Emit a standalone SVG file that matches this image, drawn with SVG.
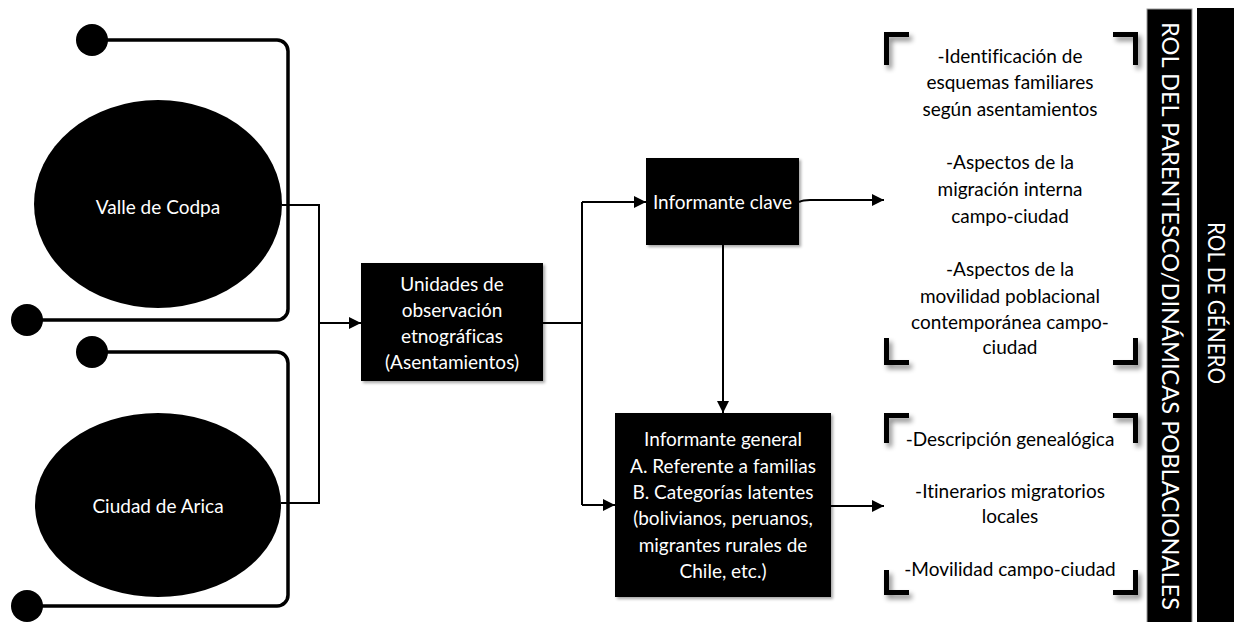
<svg xmlns="http://www.w3.org/2000/svg" width="1234" height="622" viewBox="0 0 1234 622">
  <defs>
    <style>
      .lbl { font-family: Lato, "Liberation Sans", sans-serif; font-size: 19px; text-anchor: middle; font-variant-ligatures: none; }
      .wt { fill: #ffffff; }
      .bk { fill: #000000; }
      .node { fill: #000000; }
      .wire { fill: none; stroke: #000000; stroke-width: 3.5; }
      .dot { fill: #000000; }
      .conn { fill: none; stroke: #000000; stroke-width: 2; }
      .brk { fill: none; stroke: #000000; stroke-width: 5; stroke-linecap: butt; stroke-linejoin: miter; }
      .bar { fill: #000000; }
      .vt { font-family: Lato, "Liberation Sans", sans-serif; font-size: 23px; fill: #ffffff; text-anchor: middle; font-variant-ligatures: none; }
    </style>
    <marker id="arrow" viewBox="0 0 12 12" refX="12" refY="6" markerWidth="12" markerHeight="12" markerUnits="userSpaceOnUse" orient="auto">
      <path d="M0,0 L12,6 L0,12 Z" fill="#000000"/>
    </marker>
    <filter id="shadow" x="-20%" y="-20%" width="160%" height="160%">
      <feDropShadow dx="2" dy="2" stdDeviation="1.5" flood-color="#000000" flood-opacity="0.35"/>
    </filter>
    <filter id="bshadow" x="-50%" y="-50%" width="250%" height="250%">
      <feDropShadow dx="3" dy="4" stdDeviation="2.5" flood-color="#000000" flood-opacity="0.45"/>
    </filter>
  </defs>

  <!-- decorative wire loops around the settlement nodes -->
  <g id="wires">
    <path class="wire" d="M92,40 H277 A11,11 0 0 1 288,51 V309 A11,11 0 0 1 277,320 H27"/>
    <circle class="dot" cx="92" cy="40" r="16"/>
    <circle class="dot" cx="27" cy="320" r="16"/>
    <path class="wire" d="M92,352 H277 A11,11 0 0 1 288,363 V595 A11,11 0 0 1 277,606 H27"/>
    <circle class="dot" cx="92" cy="352" r="16"/>
    <circle class="dot" cx="27" cy="606" r="16"/>
  </g>

  <g id="connectors">
    <path class="conn" d="M282,205 H319 V503 H281"/>
    <path class="conn" d="M319,323 H361" marker-end="url(#arrow)"/>
    <path class="conn" d="M543,323 H582"/>
    <path class="conn" d="M582,202 V505"/>
    <path class="conn" d="M582,202 H646" marker-end="url(#arrow)"/>
    <path class="conn" d="M582,505 H615" marker-end="url(#arrow)"/>
    <path class="conn" d="M723,245 V413" marker-end="url(#arrow)"/>
    <path class="conn" d="M799,202 Q803,200 810,200 H884" marker-end="url(#arrow)"/>
    <path class="conn" d="M831,506 H884" marker-end="url(#arrow)"/>
  </g>

  <g id="valle-de-codpa">
    <ellipse class="node" cx="158" cy="204" rx="124" ry="104"/>
    <text class="lbl wt" x="158" y="214">Valle de Codpa</text>
  </g>

  <g id="ciudad-de-arica">
    <ellipse class="node" cx="158" cy="505" rx="123" ry="92"/>
    <text class="lbl wt" x="158" y="513">Ciudad de Arica</text>
  </g>

  <g id="unidades">
    <rect class="node" x="361" y="263" width="182" height="118" filter="url(#shadow)"/>
    <text class="lbl wt" x="452" y="291">Unidades de</text>
    <text class="lbl wt" x="452" y="317">observación</text>
    <text class="lbl wt" x="452" y="343">etnográficas</text>
    <text class="lbl wt" x="452" y="369">(Asentamientos)</text>
  </g>

  <g id="informante-clave">
    <rect class="node" x="646" y="158" width="153" height="87" filter="url(#shadow)"/>
    <text class="lbl wt" x="722.5" y="209">Informante clave</text>
  </g>

  <g id="informante-general">
    <rect class="node" x="615" y="413" width="216" height="184" filter="url(#shadow)"/>
    <text class="lbl wt" x="723" y="446">Informante general</text>
    <text class="lbl wt" x="723" y="473">A. Referente a familias</text>
    <text class="lbl wt" x="723" y="499">B. Categorías latentes</text>
    <text class="lbl wt" x="723" y="525">(bolivianos, peruanos,</text>
    <text class="lbl wt" x="723" y="552">migrantes rurales de</text>
    <text class="lbl wt" x="723" y="578">Chile, etc.)</text>
  </g>

  <g id="resultados-clave">
    <g filter="url(#bshadow)">
      <path class="brk" d="M886.5,65 V34.5 H909"/>
      <path class="brk" d="M1113,34.5 H1135.5 V65"/>
      <path class="brk" d="M886.5,338 V362.5 H909"/>
      <path class="brk" d="M1113,362.5 H1135.5 V338"/>
    </g>
    <text class="lbl bk" x="1010" y="63">-Identificación de</text>
    <text class="lbl bk" x="1010" y="89">esquemas familiares</text>
    <text class="lbl bk" x="1010" y="116">según asentamientos</text>
    <text class="lbl bk" x="1010" y="169">-Aspectos de la</text>
    <text class="lbl bk" x="1010" y="196">migración interna</text>
    <text class="lbl bk" x="1010" y="223">campo-ciudad</text>
    <text class="lbl bk" x="1010" y="276">-Aspectos de la</text>
    <text class="lbl bk" x="1010" y="303">movilidad poblacional</text>
    <text class="lbl bk" x="1010" y="329">contemporánea campo-</text>
    <text class="lbl bk" x="1010" y="354">ciudad</text>
  </g>

  <g id="resultados-general">
    <g filter="url(#bshadow)">
      <path class="brk" d="M886.5,443 V415.5 H909"/>
      <path class="brk" d="M1113,415.5 H1135.5 V443"/>
      <path class="brk" d="M886.5,570 V592.5 H909"/>
      <path class="brk" d="M1113,592.5 H1135.5 V570"/>
    </g>
    <text class="lbl bk" x="1010" y="446">-Descripción genealógica</text>
    <text class="lbl bk" x="1010" y="498">-Itinerarios migratorios</text>
    <text class="lbl bk" x="1010" y="523">locales</text>
    <text class="lbl bk" x="1010" y="576">-Movilidad campo-ciudad</text>
  </g>

  <g id="rol-parentesco">
    <rect class="bar" x="1147" y="9" width="45" height="620" stroke="#9a9a9a" stroke-width="1"/>
    <text class="vt" transform="translate(1170,316) rotate(90)" y="8" textLength="588" lengthAdjust="spacingAndGlyphs">ROL DEL PARENTESCO/DINÁMICAS POBLACIONALES</text>
  </g>

  <g id="rol-genero">
    <rect class="bar" x="1197" y="8" width="40" height="620"/>
    <text class="vt" transform="translate(1216,303) rotate(90)" y="8" textLength="162" lengthAdjust="spacingAndGlyphs">ROL DE GÉNERO</text>
  </g>
</svg>
